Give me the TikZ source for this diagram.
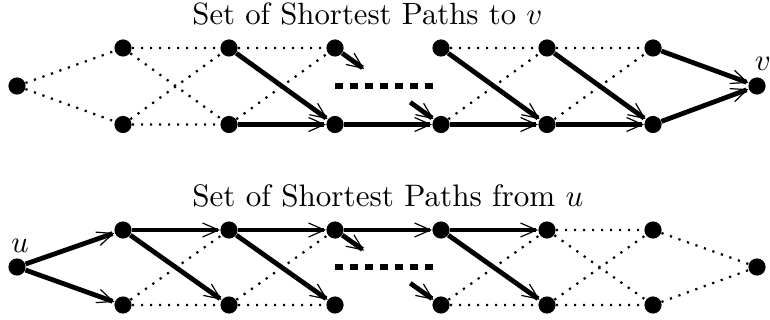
\RequirePackage{fix-cm}
\documentclass[tikz,border=0pt]{standalone}
\usepackage{graphicx}
\usetikzlibrary{arrows.meta,calc}
\begin{document}
\begin{tikzpicture}[x=0.5pt,y=-0.5pt,
  vtx/.style={circle,fill=black,inner sep=0pt,minimum size=8.6pt},
  dotline/.style={line width=1.1pt,dash pattern=on 1.1pt off 3.4pt},
  spath/.style={line width=2.4pt,-{Straight Barb[length=8pt,width=7pt,line width=0.6pt]}},
  gap/.style={line width=2.8pt,dash pattern=on 4.2pt off 3.3pt},
  title/.style={anchor=base west,inner sep=0pt},
  lbl/.style={inner sep=0pt}]
\useasboundingbox (0,0) rectangle (770,320);

% ---------- upper graph: shortest paths to v ----------
\node[title] (T1) at (192,25) {\resizebox{175pt}{!}{Set of Shortest Paths to $v$}};
\node[vtx] (s) at (17,86) {};
\foreach \k in {2,...,7}{
  \node[vtx] (a\k) at ({17+106*(\k-1)},48) {};
  \node[vtx] (b\k) at ({17+106*(\k-1)},124.5) {};
}
\node[vtx] (v) at (757,86) {};
\node[lbl] (vl) at (763,64) {\scalebox{1.54}{$v$}};

\draw[dotline] (s) -- (a2) (s) -- (b2)
  (a2) -- (a3) (a2) -- (b3) (b2) -- (a3) (b2) -- (b3)
  (a3) -- (a4) (b3) -- (a4)
  (a5) -- (a6) (b5) -- (a6) (a6) -- (a7) (b6) -- (a7);

\coordinate (p1) at ($(a4)!0.275!(b5)$);
\coordinate (p2) at ($(a4)!0.71!(b5)$);
\draw[gap] (335,86) -- (433,86);

\draw[spath] (a3) -- (b4);
\draw[spath] (b3) -- (b4);
\draw[spath] (a4) -- (p1);
\draw[spath] (p2) -- (b5);
\draw[spath] (b4) -- (b5);
\draw[spath] (a5) -- (b6);
\draw[spath] (b5) -- (b6);
\draw[spath] (a6) -- (b7);
\draw[spath] (b6) -- (b7);
\draw[spath] (a7) -- (v);
\draw[spath] (b7) -- (v);

% ---------- lower graph: shortest paths from u ----------
\node[title] (T2) at (192,206) {\resizebox{195.5pt}{!}{Set of Shortest Paths from $u$}};
\node[vtx] (u) at (17,267) {};
\node[lbl] (ul) at (20,246) {\scalebox{1.54}{$u$}};
\foreach \k in {2,...,7}{
  \node[vtx] (c\k) at ({17+106*(\k-1)},230) {};
  \node[vtx] (d\k) at ({17+106*(\k-1)},305) {};
}
\node[vtx] (w) at (757,267) {};

\draw[dotline] (d2) -- (c3) (d2) -- (d3)
  (d3) -- (c4) (d3) -- (d4)
  (d5) -- (c6) (d5) -- (d6)
  (c6) -- (c7) (c6) -- (d7) (d6) -- (c7) (d6) -- (d7)
  (c7) -- (w) (d7) -- (w);

\coordinate (q1) at ($(c4)!0.275!(d5)$);
\coordinate (q2) at ($(c4)!0.71!(d5)$);
\draw[gap] (335,267) -- (433,267);

\draw[spath] (u) -- (c2);
\draw[spath] (u) -- (d2);
\draw[spath] (c2) -- (c3);
\draw[spath] (c2) -- (d3);
\draw[spath] (c3) -- (c4);
\draw[spath] (c3) -- (d4);
\draw[spath] (c4) -- (c5);
\draw[spath] (c4) -- (q1);
\draw[spath] (q2) -- (d5);
\draw[spath] (c5) -- (c6);
\draw[spath] (c5) -- (d6);
\end{tikzpicture}
\end{document}
